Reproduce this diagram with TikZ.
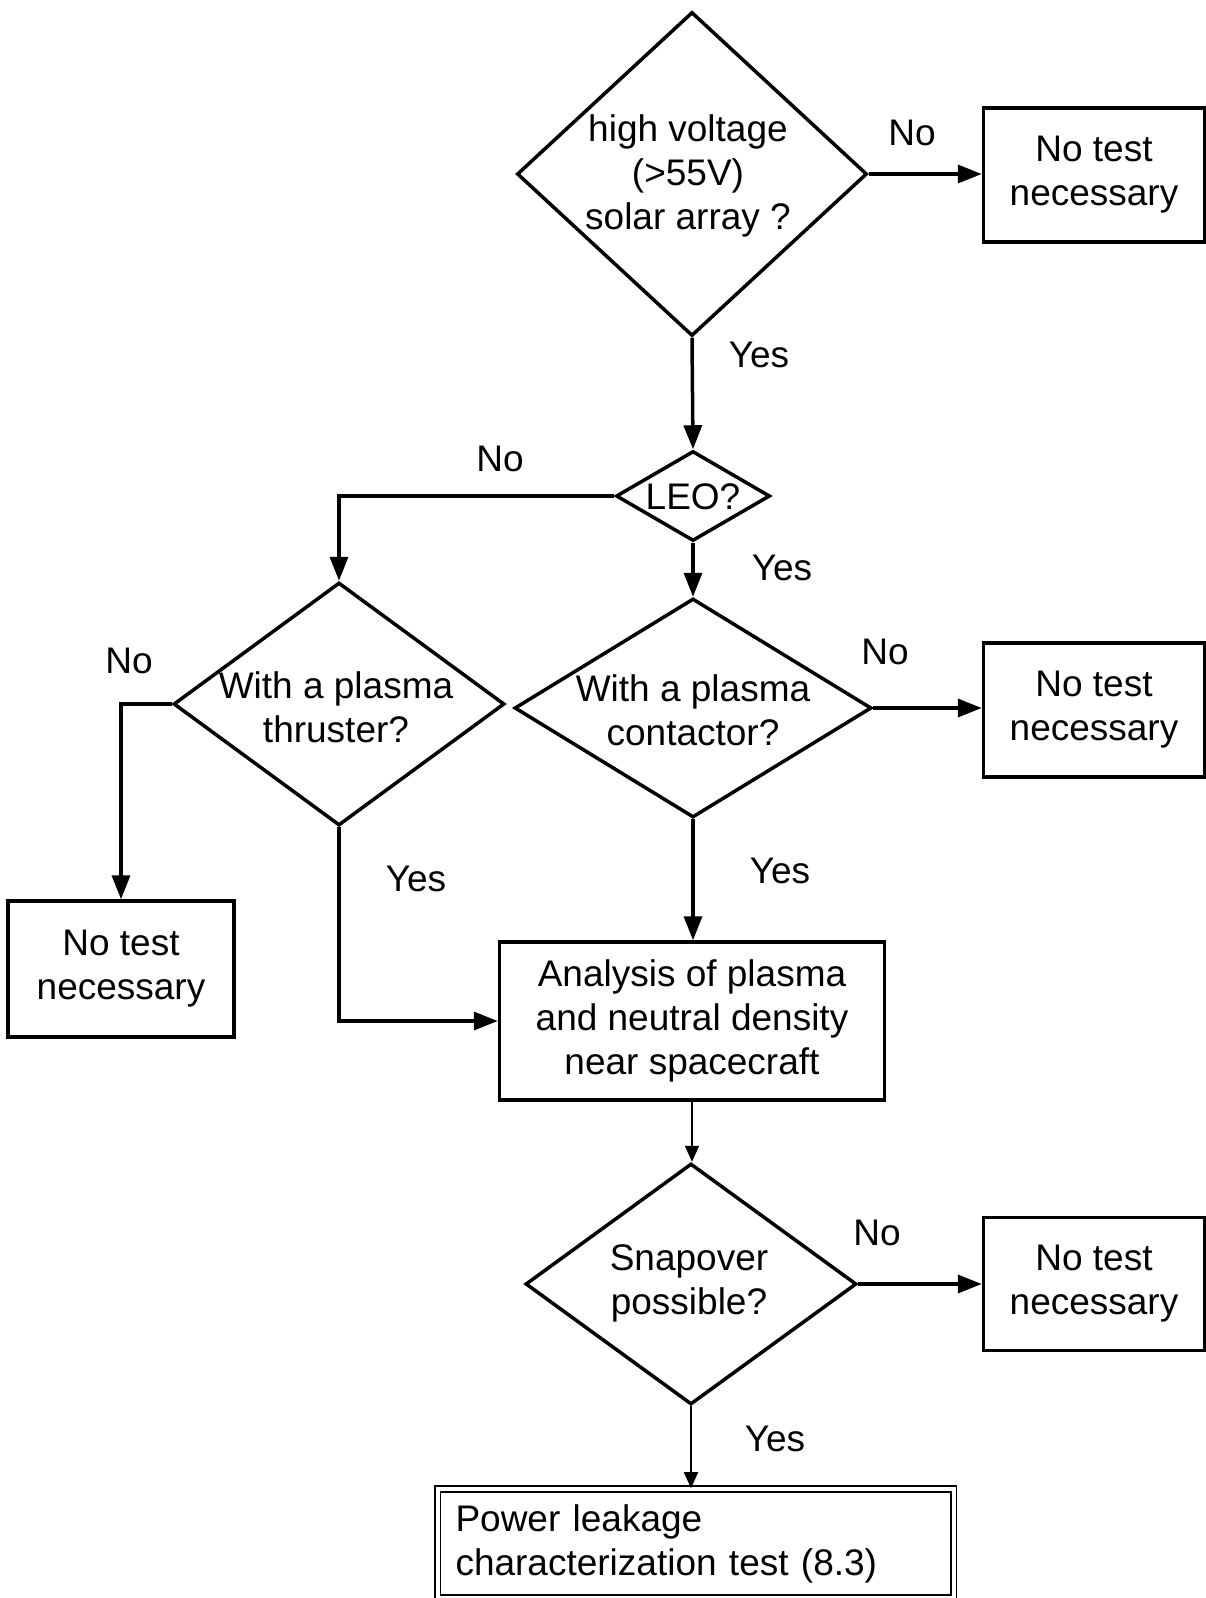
\documentclass[tikz,border=0pt]{standalone}
\usepackage{fontspec}
\setmainfont{Liberation Sans}
\usetikzlibrary{shapes.geometric,arrows.meta}
\begin{document}
\begin{tikzpicture}[x=1pt,y=-1pt,
  txt/.style={font=\fontsize{37}{44}\selectfont, align=center, inner sep=0pt},
  boxn/.style={draw, line width=3.5pt, rectangle, inner sep=0pt, txt},
  dia/.style={draw, line width=3.5pt, diamond, inner sep=0pt},
  lbl/.style={txt},
  arr/.style={line width=3.5pt, -{Triangle[length=24pt,width=18pt]}},
  tarr/.style={line width=1.8pt, -{Triangle[length=16pt,width=14pt]}}]
\clip (0,0) rectangle (1206,1598);
\fill[white] (0,0) rectangle (1206,1598);

% decision diamonds
\node[dia, minimum width=350pt, minimum height=324pt] (d1) at (692,174) {};
\node[txt] (t1) at (688,176) {high voltage\\(>55V)\\solar array ?};
\node[dia, minimum width=154pt, minimum height=90pt] (dLEO) at (693,496) {};
\node[txt] (tLEO) at (693,497) {LEO?};
\node[dia, minimum width=331pt, minimum height=243pt] (dThr) at (339,704) {};
\node[txt] (tThr) at (336,707) {With a plasma\\thruster?};
\node[dia, minimum width=357pt, minimum height=219pt] (dCon) at (693,708) {};
\node[txt] (tCon) at (693,710) {With a plasma\\contactor?};
\node[dia, minimum width=331pt, minimum height=241pt] (dSnap) at (691,1284) {};
\node[txt] (tSnap) at (689,1283) {Snapover\\possible?};

% boxes
\node[boxn, minimum width=221pt, minimum height=134pt] (b1) at (1094,175) {No test\\necessary};
\node[boxn, minimum width=221pt, minimum height=134pt] (b2) at (1094,710) {No test\\necessary};
\node[boxn, minimum width=221pt, minimum height=133pt] (b3) at (1094,1284) {No test\\necessary};
\node[boxn, minimum width=226pt, minimum height=136pt] (bL) at (121,969) {No test\\necessary};
\node[boxn, minimum width=385pt, minimum height=158pt] (bA) at (692,1021) {Analysis of plasma\\and neutral density\\near spacecraft};
\node[draw, double, double distance=4pt, line width=1.6pt, rectangle,
      font=\fontsize{37}{44}\selectfont, text width=480pt, align=left,
      inner xsep=18pt, inner ysep=0pt, minimum height=109pt] (bP) at (695.5,1543.5)
      {Power leakage\\characterization test (8.3)};

% connectors
\draw[arr] (d1.east) -- (d1.east -| b1.west);
\draw[arr] (d1.south) -- (dLEO.north);
\draw[arr] (dLEO.west) -| (dThr.north);
\draw[arr] (dLEO.south) -- (dLEO.south |- dCon.north);
\draw[arr] (dThr.west) -| (bL.north);
\draw[arr] (dThr.south) |- (bA.west);
\draw[arr] (dCon.east) -- (dCon.east -| b2.west);
\draw[arr] (dCon.south) -- (dCon.south |- bA.north);
\draw[tarr] (bA.south) -- (bA.south |- dSnap.north);
\draw[arr] (dSnap.east) -- (dSnap.east -| b3.west);
\draw[tarr] (dSnap.south) -- (dSnap.south |- bP.north);

% branch labels
\node[lbl] (l1) at (912,133) {No};
\node[lbl] (l2) at (759,355) {Yes};
\node[lbl] (l3) at (500,459) {No};
\node[lbl] (l4) at (782,568) {Yes};
\node[lbl] (l5) at (129,661) {No};
\node[lbl] (l6) at (416,879) {Yes};
\node[lbl] (l7) at (885,652) {No};
\node[lbl] (l8) at (780,871) {Yes};
\node[lbl] (l9) at (877,1233) {No};
\node[lbl] (l10) at (775,1439) {Yes};
\end{tikzpicture}
\end{document}
